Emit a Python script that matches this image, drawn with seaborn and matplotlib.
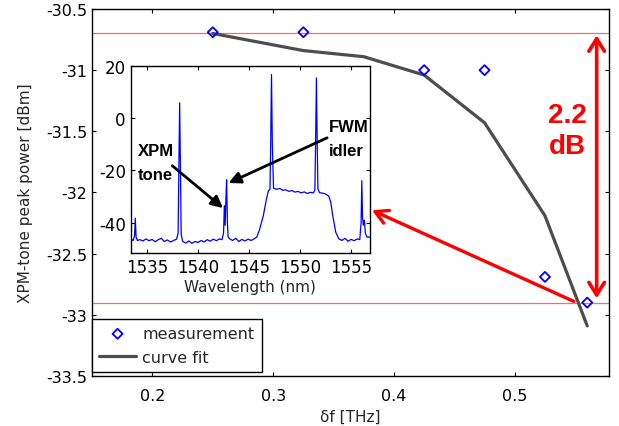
import numpy as np
import pandas as pd

import seaborn as sns
import matplotlib
matplotlib.use("Agg")
import matplotlib.pyplot as plt

# main chart: XPM-tone peak power vs frequency offset
meas_df_thz = [0.25, 0.325, 0.425, 0.475, 0.525, 0.56]
meas_power = [-30.69, -30.69, -31.0, -31.0, -32.69, -32.90]

fit_df_thz = [0.25, 0.325, 0.375, 0.425, 0.475, 0.525, 0.56]
fit_power = [-30.70, -30.84, -30.89, -31.04, -31.43, -32.19, -33.09]

ref_levels = [-30.70, -32.90]
main_xticks = [0.2, 0.3, 0.4, 0.5]
main_yticks = [-30.5, -31, -31.5, -32, -32.5, -33, -33.5]

# inset: optical spectrum
wavelength = [
    1533.40, 1533.50, 1533.65, 1533.78, 1533.85, 1533.93, 1534.05, 1534.30,
    1534.60, 1534.90, 1535.20, 1535.50, 1535.80, 1536.10, 1536.40, 1536.70,
    1537.00, 1537.30, 1537.60, 1537.90, 1538.05, 1538.12, 1538.20, 1538.28,
    1538.35, 1538.50, 1538.80, 1539.10, 1539.40, 1539.70, 1540.00, 1540.30,
    1540.60, 1540.90, 1541.20, 1541.50, 1541.80, 1542.10, 1542.35, 1542.50,
    1542.58, 1542.66, 1542.74, 1542.80, 1542.88, 1542.95, 1543.10, 1543.40,
    1543.70, 1544.00, 1544.30, 1544.60, 1544.90, 1545.20, 1545.50, 1545.75,
    1546.00, 1546.40, 1546.70, 1546.90, 1547.05, 1547.12, 1547.20, 1547.28,
    1547.40, 1547.70, 1548.00, 1548.30, 1548.60, 1548.90, 1549.20, 1549.50,
    1549.80, 1550.10, 1550.40, 1550.70, 1551.00, 1551.30, 1551.45, 1551.52,
    1551.60, 1551.68, 1551.75, 1551.90, 1552.20, 1552.50, 1552.80, 1553.00,
    1553.20, 1553.50, 1553.80, 1554.10, 1554.40, 1554.70, 1555.00, 1555.30,
    1555.60, 1555.85, 1555.98, 1556.05, 1556.12, 1556.20, 1556.30, 1556.40,
    1556.55, 1556.85,
]
power_dbm = [
    -48.5, -46.5, -46.8, -45.0, -38.3, -45.5, -46.8, -46.5,
    -47.0, -46.2, -46.9, -46.4, -47.3, -46.5, -46.0, -47.2,
    -46.6, -47.4, -46.8, -46.3, -44.0, -20.0, 5.9, -20.0,
    -44.5, -47.2, -47.8, -47.0, -47.9, -47.2, -47.6, -46.8,
    -47.4, -46.5, -47.1, -46.3, -46.9, -46.2, -46.5, -44.0,
    -33.5, -41.0, -30.0, -23.6, -40.0, -45.5, -46.2, -46.8,
    -46.0, -47.2, -46.4, -47.0, -46.3, -46.8, -46.2, -45.5,
    -43.0, -37.3, -31.0, -27.7, -27.3, -10.0, 16.7, -10.0,
    -26.8, -27.2, -26.9, -27.6, -27.4, -28.0, -27.7, -28.3,
    -28.0, -28.6, -28.2, -28.8, -28.4, -28.6, -27.5, -10.0,
    15.4, -10.0, -27.0, -28.5, -28.7, -29.0, -29.8, -32.0,
    -37.3, -43.7, -46.2, -46.8, -46.0, -47.1, -46.4, -46.9,
    -46.2, -46.5, -40.0, -23.9, -38.0, -41.0, -39.0, -44.0,
    -45.5, -45.5,
]
inset_xticks = [1535, 1540, 1545, 1550, 1555]
inset_yticks = [20, 0, -20, -40]

sns.set_style("ticks")
plt.rcParams["font.family"] = ["DejaVu Sans"]
plt.rcParams["axes.unicode_minus"] = False
plt.rcParams["xtick.direction"] = "in"
plt.rcParams["ytick.direction"] = "in"
plt.rcParams["xtick.top"] = True
plt.rcParams["ytick.right"] = True

fig = plt.figure(figsize=(6.19, 4.27), dpi=100)
ax = fig.add_axes([0.1486, 0.1171, 0.9838 - 0.1486, 0.9766 - 0.1171])

for lvl in ref_levels:
    ax.axhline(lvl, color="#ff2a2a", lw=0.9, alpha=0.7, zorder=1)

meas = pd.DataFrame({"df": meas_df_thz, "p": meas_power})
fit = pd.DataFrame({"df": fit_df_thz, "p": fit_power})

sns.scatterplot(data=meas, x="df", y="p", marker="D", s=26, facecolor="none",
                edgecolor="blue", linewidth=1.3, ax=ax, label="measurement",
                zorder=4)
sns.lineplot(data=fit, x="df", y="p", color="#4d4d4d", linewidth=2.3, ax=ax,
             label="curve fit", zorder=3, sort=False)

ax.set_xlim(0.15, 0.578)
ax.set_ylim(-33.5, -30.5)
ax.set_xticks(main_xticks)
ax.set_yticks(main_yticks)
ax.set_yticklabels([f"{v:g}" for v in main_yticks])
ax.tick_params(labelsize=11.5, length=3, width=0.8, colors="black")
ax.tick_params(axis="x", pad=9)
for s in ax.spines.values():
    s.set_color("black")
    s.set_linewidth(1)
ax.set_xlabel("δf [THz]", fontsize=11, labelpad=4)
ax.set_ylabel("XPM-tone peak power [dBm]", fontsize=11, labelpad=9)

leg = ax.legend(loc="lower left", bbox_to_anchor=(0.0, 0.011), borderaxespad=0,
                fontsize=11.5, frameon=True, fancybox=False, framealpha=1,
                edgecolor="black", handlelength=2.3, labelspacing=0.55,
                borderpad=0.45, handletextpad=0.4)
leg.get_frame().set_linewidth(1)
leg.legend_handles[0].set_facecolor("none")
leg.legend_handles[0].set_edgecolor("blue")

# red annotations
ax.annotate("", xy=(0.5678, -30.715), xytext=(0.5678, -32.865),
            arrowprops=dict(arrowstyle="<->,head_length=0.45,head_width=0.28",
                            color="red", lw=2.6, mutation_scale=20,
                            shrinkA=0, shrinkB=0))
ax.text(0.5438, -31.49, "2.2\ndB", color="red", fontsize=20, fontweight="bold",
        family=["Liberation Sans", "DejaVu Sans"], ha="center", va="center",
        linespacing=1.25)
ax.annotate("", xy=(0.3818, -32.145), xytext=(0.5488, -32.89),
            arrowprops=dict(arrowstyle="->,head_length=0.45,head_width=0.25",
                            color="red", lw=2.4, mutation_scale=20,
                            shrinkA=0, shrinkB=0), zorder=5)

# inset spectrum
axin = fig.add_axes([0.2111, 0.4052, 0.5977 - 0.2111, 0.8431 - 0.4052])
spec = pd.DataFrame({"wl": wavelength, "p": power_dbm})
sns.lineplot(data=spec, x="wl", y="p", color="blue", linewidth=0.9, ax=axin,
             sort=False, estimator=None)
axin.set_xlim(1533.4, 1556.85)
axin.set_ylim(-51.6, 20)
axin.set_xticks(inset_xticks)
axin.set_yticks(inset_yticks)
axin.tick_params(labelsize=12, length=3, width=0.8, colors="black")
for s in axin.spines.values():
    s.set_color("black")
    s.set_linewidth(1)
axin.set_xlabel("Wavelength (nm)", fontsize=11, labelpad=2)
axin.set_ylabel("")

bold = dict(fontsize=12, fontweight="bold", family=["Liberation Sans", "DejaVu Sans"],
            color="black", va="center", ha="left", linespacing=1.75)
axin.text(1534.1, -17.0, "XPM\ntone", **bold)
axin.text(1552.85, -7.7, "FWM\nidler", clip_on=False, **bold)
axin.annotate("", xy=(1542.45, -34.4), xytext=(1537.48, -18.2),
              arrowprops=dict(arrowstyle="-|>,head_length=0.5,head_width=0.25",
                              color="black", lw=2, mutation_scale=14,
                              shrinkA=0, shrinkB=0))
axin.annotate("", xy=(1543.0, -24.8), xytext=(1552.65, -7.5),
              arrowprops=dict(arrowstyle="-|>,head_length=0.5,head_width=0.25",
                              color="black", lw=2, mutation_scale=14,
                              shrinkA=0, shrinkB=0))

fig.savefig("out.png", dpi=100)
